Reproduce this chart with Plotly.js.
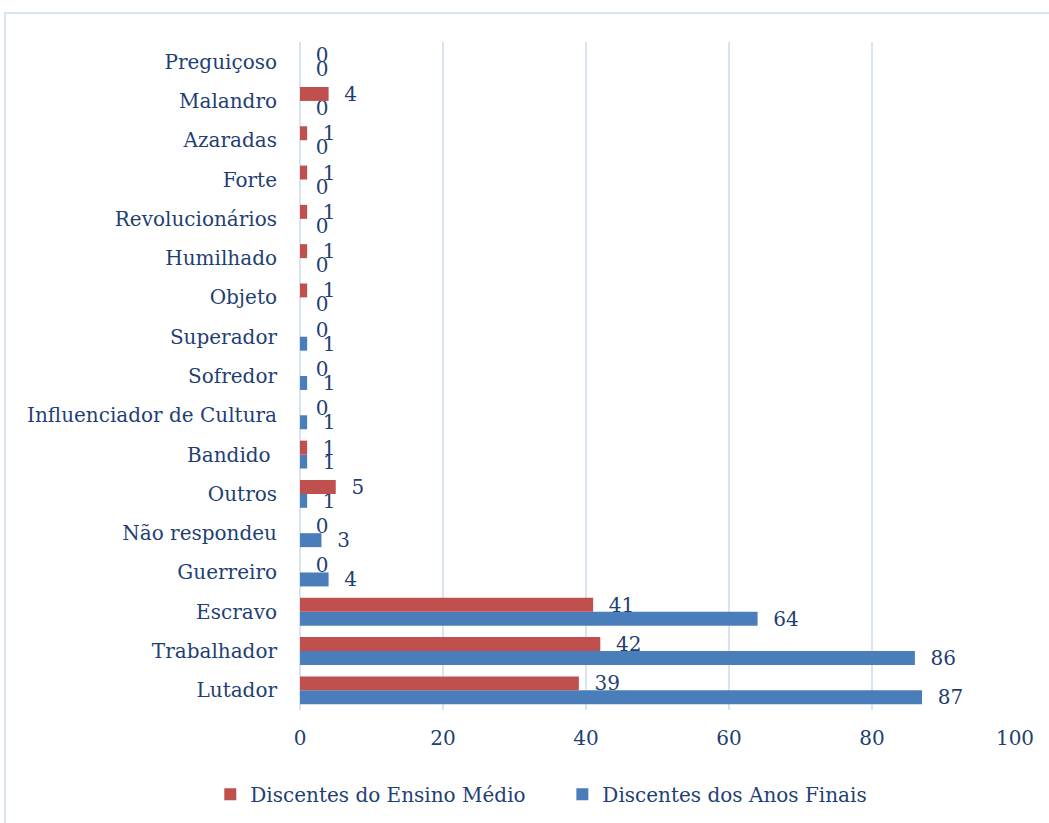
<!DOCTYPE html>
<html>
<head>
<meta charset="utf-8">
<script src="https://cdn.plot.ly/plotly-3.0.1.min.js"></script>
<style>html,body{margin:0;padding:0;background:#fff;}#chart{width:1049px;height:823px;}</style>
</head>
<body>
<div id="chart"></div>
<script>
var categories = ["Lutador","Trabalhador","Escravo","Guerreiro","Não respondeu","Outros","Bandido ","Influenciador de Cultura","Sofredor","Superador","Objeto","Humilhado","Revolucionários","Forte","Azaradas","Malandro","Preguiçoso"];
var ensinoMedio = [39,42,41,0,0,5,1,0,0,0,1,1,1,1,1,4,0];
var anosFinais = [87,86,64,4,3,1,1,1,1,1,0,0,0,0,0,0,0];
var xTicks = [0,20,40,60,80,100];

var textColor = "#1F3F73";
var fontFam = "DejaVu Serif, serif";

var traces = [
  {type:"bar", orientation:"h", name:"Discentes dos Anos Finais", y:categories, x:anosFinais,
   marker:{color:"#4A7EBB"}, texttemplate:"  %{x}", textposition:"outside", cliponaxis:false, constraintext:"none",
   textfont:{size:20,color:textColor,family:fontFam}, legendrank:2},
  {type:"bar", orientation:"h", name:"Discentes do Ensino Médio\u00a0\u00a0\u00a0\u00a0\u00a0", y:categories, x:ensinoMedio,
   marker:{color:"#C0504D"}, texttemplate:"  %{x}", textposition:"outside", cliponaxis:false, constraintext:"none",
   textfont:{size:20,color:textColor,family:fontFam}, legendrank:1}
];

var layout = {
  width:1049, height:823,
  margin:{l:300, r:34, t:42, b:113},
  paper_bgcolor:"#fff", plot_bgcolor:"#fff",
  font:{family:fontFam, color:textColor, size:20},
  barmode:"group", bargap:0.29, bargroupgap:0,
  showlegend:true,
  legend:{orientation:"h", xref:"container", yref:"container", x:0.516, xanchor:"center", y:0.035, yanchor:"middle", font:{size:20,color:textColor}, itemwidth:30},
  xaxis:{range:[0,100], tickvals:xTicks, ticktext:xTicks.map(String), showgrid:true, gridcolor:"#D9E3F2", gridwidth:2, zeroline:true, zerolinecolor:"#D9E3F2", zerolinewidth:2, showline:false, ticks:"", tickfont:{size:20}, ticklabelstandoff:14, fixedrange:true},
  yaxis:{type:"category", categoryorder:"array", categoryarray:categories, showgrid:false, zeroline:false, showline:false, ticks:"", tickfont:{size:20}, ticklabelstandoff:22, automargin:false},
  shapes:[{type:"rect", xref:"paper", yref:"paper", x0:-0.4126, x1:1.06, y0:-0.2, y1:1.0434, line:{color:"#D9E3F2", width:2}, fillcolor:"rgba(0,0,0,0)", layer:"below"}]
};

Plotly.newPlot("chart", traces, layout, {displayModeBar:false, staticPlot:true});
</script>
</body>
</html>
